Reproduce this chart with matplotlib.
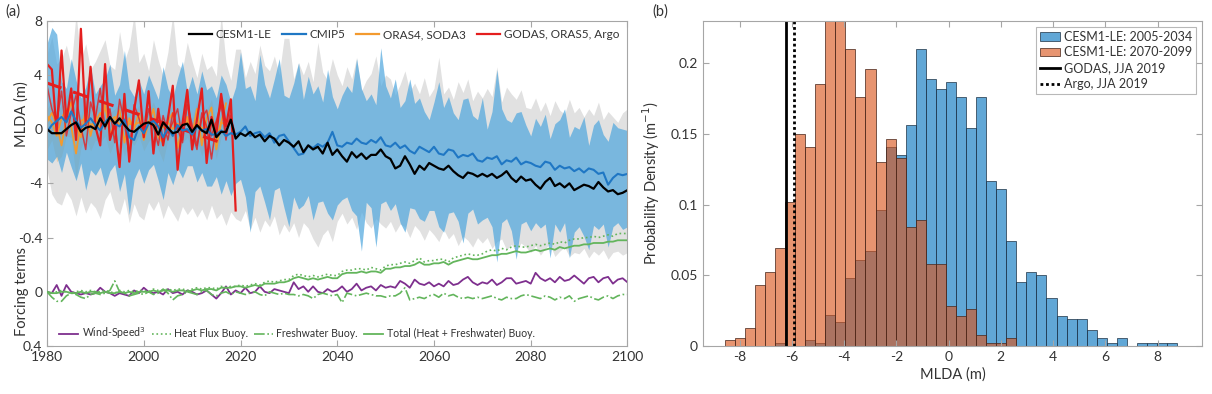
import numpy as np
import matplotlib.pyplot as plt
from matplotlib.lines import Line2D
from matplotlib.patches import Patch

plt.rcParams['font.family'] = ['Lato', 'DejaVu Sans']
plt.rcParams['mathtext.fontset'] = 'dejavusans'

# ---------------- panel (a) data ----------------
years = np.arange(1980, 2101)

cesm_mean = [0.0, -0.3, -0.3, -0.3, 0.0, 0.3, 0.5, -0.2, 0.1, 0.2,
             0.0, 0.8, 0.2, 0.9, 0.4, 0.8, 0.3, -0.1, -0.2, 0.1,
             0.4, 0.5, 0.3, -0.4, 0.5, 0.1, -0.3, -0.2, 0.3, 0.4,
             -0.2, 0.3, -0.1, -0.3, 0.7, -0.6, -0.2, -0.2, 0.7, -0.7,
             -0.3, -0.5, -0.2, -0.6, -0.4, -0.9, -0.5, -0.7, -1.2, -0.8,
             -1.0, -1.3, -0.9, -1.7, -1.2, -1.5, -1.3, -1.8, -1.0, -1.9,
             -1.5, -2.0, -2.4, -1.7, -2.1, -1.8, -2.2, -1.9, -1.9, -1.5,
             -2.0, -2.2, -2.9, -2.7, -2.0, -2.6, -3.3, -2.7, -3.0, -2.5,
             -2.7, -2.9, -3.0, -2.7, -3.1, -3.4, -3.6, -3.2, -3.3, -3.5,
             -3.3, -3.5, -3.3, -3.6, -3.4, -3.1, -3.6, -3.9, -3.5, -3.8,
             -3.7, -4.1, -4.4, -3.9, -3.6, -4.2, -4.0, -4.3, -4.0, -4.5,
             -4.3, -4.1, -4.2, -4.4, -3.9, -4.3, -4.6, -4.5, -4.8, -4.7,
             -4.5]
cmip_mean = [-0.2, 0.3, 0.6, 0.9, 0.5, 1.3, 0.6, 0.1, 0.4, 0.8,
             0.3, -0.1, 0.5, 0.9, 0.4, 0.2, 0.7, -0.6, -0.8, 0.2,
             -0.3, 0.4, 0.6, 0.2, -0.6, 0.1, -0.5, 0.3, -0.1, 0.0,
             -0.4, 0.2, -0.1, 0.0, -0.4, -0.4, -0.1, -0.5, -0.3, -0.4,
             -0.2, 0.2, -0.5, -0.3, -0.2, -0.6, -0.3, -1.0, -0.5, -0.4,
             -0.9, -1.4, -1.9, -1.8, -1.2, -1.4, -1.1, -1.3, -1.0, -0.2,
             -1.2, -1.3, -1.0, -1.1, -0.7, -1.0, -1.1, -0.8, -1.0, -0.6,
             -1.2, -1.3, -1.0, -1.4, -1.2, -1.6, -1.8, -1.3, -1.5, -1.7,
             -1.3, -1.8, -1.9, -1.5, -1.6, -2.1, -1.9, -2.0, -1.8, -2.3,
             -2.4, -2.1, -2.2, -2.0, -2.6, -2.3, -2.4, -2.1, -2.6, -2.4,
             -2.5, -2.7, -2.8, -2.4, -2.5, -3.0, -2.7, -2.9, -2.8, -3.1,
             -2.9, -3.2, -2.9, -3.0, -3.3, -3.2, -4.1, -3.6, -3.3, -3.4,
             -3.3]
cesm_hi = [5.5, 6.8, 4.8, 5.2, 6.2, 4.6, 8.5, 5.1, 6.3, 4.4,
           5.0, 5.8, 6.6, 4.7, 4.4, 7.2, 5.0, 6.1, 8.5, 4.9,
           5.6, 4.3, 6.6, 5.1, 3.9, 5.7, 8.5, 4.8, 4.4, 6.4,
           5.0, 3.8, 5.6, 4.4, 4.7, 3.9, 8.5, 4.9, 3.6, 5.9,
           5.9, 3.8, 5.0, 4.1, 6.2, 4.7, 4.3, 5.4, 4.0, 6.7,
           6.7, 3.7, 4.9, 4.0, 5.0, 3.5, 6.4, 4.2, 3.6, 5.2,
           4.0, 3.2, 4.6, 3.7, 5.3, 2.8, 3.6, 4.1, 5.4, 3.2,
           4.0, 3.7, 2.5, 3.3, 4.3, 2.8, 3.4, 2.6, 3.8, 2.4,
           3.0, 5.3, 2.6, 3.1, 2.2, 3.5, 2.7, 3.7, 2.1, 2.8,
           2.3, 3.0, 2.4, 4.6, 2.0, 3.1, 2.6, 2.2, 2.9, 1.6,
           1.5, 2.3, 1.3, 2.0, 1.0, 2.1, 1.4, 1.1, 2.2, 1.2,
           1.6, 0.9, 1.5, 1.0, 2.0, 0.7, 1.3, 0.9, 0.5, 1.2,
           1.5]
cesm_lo = [-3.0, -4.8, -5.4, -5.6, -4.6, -5.2, -6.4, -5.0, -6.2, -5.4,
           -5.8, -6.6, -5.2, -4.6, -5.9, -6.3, -5.1, -6.9, -5.5, -6.4,
           -6.7, -5.4, -6.0, -5.3, -6.6, -5.6, -6.2, -6.8, -5.7, -6.3,
           -5.8, -6.5, -5.9, -6.7, -5.6, -6.6, -6.2, -7.1, -6.1, -6.6,
           -6.8, -6.0, -7.4, -6.5, -7.6, -6.7, -7.2, -6.4, -7.8, -7.0,
           -7.6, -6.9, -8.0, -6.9, -7.3, -8.1, -8.7, -7.8, -7.4, -8.3,
           -6.8, -6.2, -7.0, -6.5, -7.4, -6.1, -6.9, -7.3, -6.6, -7.0,
           -7.3, -6.8, -7.6, -7.0, -7.2, -8.0, -7.1, -7.5, -8.2, -7.4,
           -7.8, -8.3, -7.4, -8.1, -7.7, -8.6, -7.9, -8.2, -8.7, -8.0,
           -8.4, -8.0, -8.8, -8.3, -8.1, -8.9, -8.5, -9.0, -8.4, -8.7,
           -9.1, -8.6, -9.3, -8.8, -8.5, -9.4, -9.0, -8.7, -9.4, -9.1,
           -9.2, -8.8, -9.5, -9.0, -9.3, -8.9, -9.6, -9.1, -9.0, -9.3,
           -9.1]
cmip_hi = [6.3, 7.5, 7.0, 3.5, 3.0, 5.2, 3.6, 2.3, 3.1, 4.6,
           2.6, 3.2, 3.7, 4.8, 2.5, 3.3, 5.8, 3.0, 2.4, 3.6,
           2.6, 4.0, 3.1, 2.2, 4.6, 3.0, 2.3, 3.8, 5.0, 2.7,
           3.9, 2.6, 4.3, 2.9, 3.2, 2.3, 4.0, 3.3, 2.0, 3.1,
           5.7, 3.0, 3.2, 2.1, 5.5, 3.3, 2.3, 3.7, 5.2, 2.5,
           2.3, 3.4, 4.9, 2.2, 3.9, 2.6, 3.2, 2.0, 4.4, 2.4,
           1.5, 2.5, 3.2, 2.7, 5.2, 3.0, 2.1, 2.6, 1.8, 6.0,
           3.2, 2.3, 3.7, 1.6, 2.1, 3.7, 1.9, 2.3, 1.3, 0.7,
           2.0, 3.5, 1.6, 2.4, 1.2, 0.7, 2.2, 2.3, 1.0, 0.7,
           2.3, 0.0, 1.3, 4.4, 1.5, 0.7, 0.5, 1.2, 1.3, 0.3,
           -0.5, 0.8, 0.2, 1.1, -0.7, 0.4, 0.7, 1.5, -0.6, 0.2,
           0.0, 0.9, -1.2, 0.3, 0.7, -0.4, -0.9, 0.5, 0.1, 0.0,
           -0.1]
cmip_lo = [-2.2, -2.5, -2.0, -3.2, -1.7, -2.8, -3.8, -2.5, -4.5, -3.0,
           -3.4, -2.8, -4.2, -3.1, -2.6, -4.6, -3.3, -6.3, -3.7, -2.9,
           -4.0, -3.0, -2.6, -3.8, -5.2, -3.2, -4.1, -2.9, -3.6, -2.7,
           -2.7, -3.9, -3.2, -4.2, -4.2, -3.5, -4.8, -3.8, -4.9, -4.0,
           -3.7, -5.0, -7.6, -4.6, -4.2, -5.4, -6.7, -4.5, -4.3, -5.8,
           -7.2, -5.0, -5.9, -5.6, -4.9, -6.7, -5.4, -5.3, -6.2, -6.7,
           -5.6, -5.2, -5.0, -6.0, -6.4, -9.0, -5.4, -5.8, -8.7, -5.5,
           -5.3, -6.0, -5.5, -6.9, -7.6, -5.8, -5.9, -6.6, -6.8, -6.0,
           -6.0, -7.2, -7.6, -6.2, -6.1, -6.8, -8.4, -6.2, -5.9, -7.0,
           -6.7, -6.5, -7.2, -9.8, -6.9, -6.6, -7.5, -9.6, -7.0, -6.8,
           -7.5, -6.9, -7.3, -7.0, -9.5, -7.0, -7.6, -6.9, -9.5, -7.6,
           -7.2, -7.9, -8.9, -7.1, -7.4, -7.0, -8.7, -7.2, -6.9, -7.4,
           -7.2]

# reanalyses / observations
obs_years = np.arange(1980, 2020)
oras4 = [1.0, 0.5, -0.5, 0.8, 1.5, 0.2, -1.8, 0.6, 0.8, 0.3,
         0.5, 1.2, 0.4, 0.6, 0.9, 0.3, 0.7, 0.4, 0.3, 0.5,
         0.2, 0.6, 0.4, 0.3, 0.1, 0.5, 0.0, 0.4, 0.2, 0.6,
         -0.2, 0.4, 0.1, -0.3, 0.6, -0.8, 0.5, 0.3]
soda3 = [0.5, 1.2, 0.3, -1.2, 0.8, 2.0, 0.2, -0.6, 1.5, -0.5,
         1.0, 0.0, 1.8, -0.5, 0.6, 1.4, -1.0, 0.8, 0.0, 1.2,
         -0.8, 0.4, 1.5, -0.6, -1.0, 0.6, 1.2, -1.4, 0.3, 0.9,
         -0.5, 1.5, -1.2, 0.8, 1.6, -1.5, 0.5, 1.9]
orange_hi = [1.5, 2.0, 1.2, 1.8, 2.5, 2.8, 1.6, 1.0, 2.2, 1.4,
             1.8, 1.6, 2.4, 1.2, 1.5, 2.0, 1.2, 1.6, 1.1, 1.8,
             1.0, 1.4, 2.0, 1.0, 0.8, 1.2, 1.8, 0.6, 1.1, 1.5,
             0.8, 2.0, 0.5, 1.4, 2.2, 0.4, 1.2, 2.4]
orange_lo = [-1.5, -0.8, -2.4, -2.0, -0.5, -0.6, -3.6, -1.4, -0.6, -1.6,
             -0.8, -1.0, -0.5, -1.8, -0.9, -0.8, -2.0, -0.8, -1.2, -0.5,
             -1.6, -0.9, -0.6, -1.5, -2.4, -0.7, -0.6, -2.2, -1.0, -0.6,
             -1.5, -0.8, -2.0, -0.6, -0.4, -2.2, -0.6, -0.3]
godas = [4.8, 4.4, -0.3, 5.8, 0.6, 3.0, -0.8, 7.4, 0.3, 4.6,
         0.2, -1.2, 4.8, -0.8, 0.4, -2.8, 2.6, -2.4, 1.4, 3.6,
         -0.6, 2.8, -1.8, 1.5, -1.2, 0.8, 3.2, -3.0, 0.4, 2.9,
         -1.5, 0.7, 3.0, -2.5, 0.9, -0.4, 2.6, 0.2, 2.2, -6.0]
oras5 = [3.2, 1.5, 0.5, 2.8, -0.5, 1.2, 2.5, 0.2, -1.5, 2.0,
         0.8, 3.0, 0.0, 1.5, -1.0, 2.2, 0.5, -2.0, 1.8, 0.8,
         -0.5, 1.5, 0.2, -1.2, 1.0, -0.3, 0.5, 1.5, -0.8, 2.4,
         -0.2, -1.5, 1.2, 0.2, -2.2, 0.4, 1.8, -0.8, 1.5]
argo_years = np.arange(2004, 2020)
argo = [0.5, -0.8, 1.2, 0.0, -1.0, 1.8, 0.3, -1.2, 0.8, 1.4,
        -0.5, 0.6, 2.0, -0.3, 1.0, -0.6]
trend_years = [1980, 2016]
trend_vals = [3.4, -1.0]

# forcing terms
wind = [0.00, 0.01, -0.05, 0.03, -0.05, 0.00, 0.01, 0.02, 0.01, 0.02,
        0.01, -0.03, 0.00, 0.01, 0.03, 0.01, 0.02, 0.03, -0.01, 0.01,
        -0.03, 0.00, 0.01, 0.00, 0.02, -0.02, 0.01, 0.00, 0.02, -0.01,
        0.00, 0.02, 0.01, -0.01, 0.02, 0.05, 0.01, -0.04, 0.02, -0.01,
        0.01, -0.03, 0.01, 0.00, -0.04, 0.00, 0.01, -0.02, -0.01, 0.00,
        0.01, -0.07, -0.02, -0.04, 0.00, -0.04, 0.00, 0.01, -0.02, 0.00,
        -0.01, -0.04, 0.00, -0.02, -0.06, -0.01, -0.03, -0.04, -0.01, -0.05,
        -0.03, -0.04, -0.03, -0.08, -0.06, -0.03, -0.09, -0.06, -0.05, -0.07,
        -0.04, -0.06, -0.04, -0.08, -0.05, -0.06, -0.09, -0.11, -0.07, -0.05,
        -0.07, -0.06, -0.09, -0.05, -0.07, -0.10, -0.10, -0.06, -0.07, -0.08,
        -0.06, -0.14, -0.10, -0.08, -0.10, -0.07, -0.11, -0.08, -0.09, -0.12,
        -0.09, -0.06, -0.10, -0.11, -0.07, -0.10, -0.11, -0.06, -0.09, -0.10,
        -0.07]
heat = [0.00, 0.01, 0.00, -0.01, 0.00, 0.01, 0.00, -0.01, 0.00, -0.01,
        0.00, 0.00, -0.01, 0.00, 0.01, -0.01, 0.00, -0.01, 0.00, -0.01,
        -0.01, 0.00, -0.02, -0.01, -0.01, -0.02, -0.01, -0.02, -0.02, -0.01,
        -0.02, -0.03, -0.02, -0.03, -0.03, -0.02, -0.04, -0.03, -0.04, -0.04,
        -0.05, -0.04, -0.05, -0.06, -0.05, -0.07, -0.08, -0.07, -0.08, -0.09,
        -0.09, -0.12, -0.13, -0.12, -0.11, -0.12, -0.11, -0.12, -0.13, -0.12,
        -0.12, -0.15, -0.16, -0.16, -0.17, -0.17, -0.16, -0.18, -0.17, -0.16,
        -0.19, -0.20, -0.20, -0.21, -0.22, -0.21, -0.23, -0.25, -0.22, -0.23,
        -0.23, -0.24, -0.24, -0.22, -0.25, -0.26, -0.27, -0.28, -0.27, -0.27,
        -0.28, -0.30, -0.31, -0.30, -0.32, -0.31, -0.33, -0.34, -0.33, -0.33,
        -0.34, -0.35, -0.34, -0.35, -0.36, -0.35, -0.37, -0.36, -0.38, -0.39,
        -0.39, -0.40, -0.40, -0.41, -0.40, -0.41, -0.42, -0.41, -0.43, -0.43,
        -0.43]
fresh = [0.00, 0.04, 0.07, 0.07, 0.03, 0.01, 0.02, 0.04, 0.05, 0.02,
         0.01, 0.02, 0.01, -0.01, -0.08, 0.00, 0.01, 0.03, 0.02, 0.01,
         0.02, 0.00, 0.02, 0.01, -0.02, 0.01, 0.06, 0.03, 0.02, 0.00,
         0.01, 0.02, 0.00, -0.01, 0.02, 0.03, 0.01, 0.00, 0.02, 0.00,
         0.01, 0.02, 0.01, 0.00, 0.02, 0.03, 0.00, 0.01, 0.02, 0.01,
         0.02, 0.02, 0.03, 0.02, 0.03, 0.05, 0.02, 0.01, 0.02, 0.03,
         0.02, 0.08, 0.01, 0.02, 0.03, 0.02, 0.01, 0.02, 0.03, 0.03,
         0.04, 0.03, 0.03, 0.01, -0.03, 0.06, 0.05, 0.04, 0.05, 0.03,
         0.02, 0.04, 0.01, 0.03, 0.02, 0.04, 0.05, 0.04, 0.05, 0.04,
         0.05, 0.04, 0.03, 0.05, 0.06, 0.04, 0.05, 0.05, 0.03, 0.02,
         0.03, 0.04, 0.05, 0.03, 0.04, 0.06, 0.04, 0.05, 0.03, 0.07,
         0.05, 0.04, 0.03, 0.05, 0.06, 0.04, 0.03, 0.05, 0.03, 0.02,
         0.02]
total = [0.00, 0.01, 0.01, 0.00, 0.00, 0.01, 0.01, 0.00, 0.01, 0.00,
         0.00, 0.01, 0.00, 0.01, 0.01, 0.00, 0.01, 0.00, 0.01, 0.00,
         0.00, 0.00, -0.01, 0.00, -0.01, -0.01, 0.00, -0.01, -0.01, 0.00,
         -0.01, -0.02, -0.01, -0.02, -0.02, -0.01, -0.03, -0.03, -0.03, -0.04,
         -0.04, -0.03, -0.04, -0.05, -0.04, -0.06, -0.06, -0.06, -0.07, -0.07,
         -0.08, -0.10, -0.11, -0.10, -0.09, -0.10, -0.09, -0.10, -0.11, -0.10,
         -0.10, -0.13, -0.14, -0.14, -0.14, -0.15, -0.14, -0.15, -0.15, -0.14,
         -0.17, -0.17, -0.18, -0.18, -0.19, -0.19, -0.20, -0.22, -0.20, -0.20,
         -0.21, -0.21, -0.22, -0.20, -0.22, -0.23, -0.24, -0.25, -0.24, -0.24,
         -0.25, -0.26, -0.27, -0.27, -0.28, -0.28, -0.29, -0.30, -0.29, -0.29,
         -0.30, -0.31, -0.30, -0.31, -0.32, -0.31, -0.33, -0.32, -0.33, -0.34,
         -0.34, -0.35, -0.35, -0.36, -0.36, -0.36, -0.37, -0.37, -0.38, -0.38,
         -0.38]

# ---------------- panel (b) data ----------------
bin_start = -8.57
bin_width = 0.385
dens_early = [0, 0, 0, 0, 0, 0.002, 0, 0, 0.004, 0.002,
              0.022, 0.017, 0.048, 0.061, 0.067, 0.096, 0.141, 0.135, 0.156, 0.210,
              0.189, 0.182, 0.187, 0.176, 0.154, 0.176, 0.117, 0.111, 0.074, 0.045,
              0.052, 0.050, 0.034, 0.021, 0.019, 0.019, 0.011, 0.006, 0.002, 0.006,
              0, 0.002, 0.002, 0.002, 0.002]
dens_late = [0.004, 0.006, 0.013, 0.043, 0.052, 0.069, 0.102, 0.150, 0.141, 0.185,
             0.245, 0.238, 0.210, 0.176, 0.196, 0.130, 0.146, 0.133, 0.084, 0.089,
             0.058, 0.058, 0.028, 0.021, 0.026, 0.008, 0.002, 0.002, 0.006, 0,
             0, 0, 0, 0, 0, 0, 0, 0, 0, 0,
             0, 0, 0, 0, 0]
godas_2019 = -6.21
argo_2019 = -5.92

# ---------------- styling ----------------
spine_c = '#a6a6a6'
text_c = '#333333'
c_blue = '#1f77c4'
c_orange = '#f39a2e'
c_red = '#e41e1e'
c_purple = '#7e2f8e'
c_green = '#63b55c'
tick_fs = 10


def style_axes(a):
    for s in a.spines.values():
        s.set_color(spine_c)
        s.set_linewidth(0.8)
    a.tick_params(direction='in', length=4, width=0.8, color=spine_c,
                  labelcolor=text_c, labelsize=tick_fs, top=True, right=True)


fig = plt.figure(figsize=(12.12, 3.94), dpi=100)

# ---- panel (a)
ax = fig.add_axes([0.0388, 0.1218, 0.4789, 0.8257])
ax.fill_between(years, cesm_lo, cesm_hi, color='#e1e1e1', lw=0)
n_or = len(orange_lo)
ax.fill_between(obs_years[:n_or], orange_lo, orange_hi, color='#f5a54a', alpha=0.35, lw=0)
ax.fill_between(years, cmip_lo, cmip_hi, color='#4da6dd', alpha=0.7, lw=0)
ax.plot(obs_years[:len(oras4)], oras4, color=c_orange, lw=1.3)
ax.plot(obs_years[:len(soda3)], soda3, color=c_orange, lw=1.3)
ax.plot(obs_years[:len(oras5)], oras5, color=c_red, lw=1.1, alpha=0.8)
ax.plot(argo_years, argo, color=c_red, lw=1.1, alpha=0.8)
ax.plot(obs_years, godas, color=c_red, lw=1.6)
ax.plot(trend_years, trend_vals, color=c_red, lw=2.2, dashes=(5, 4))
ax.plot(years, cmip_mean, color=c_blue, lw=1.5)
ax.plot(years, cesm_mean, color='black', lw=1.6)
ax.set_xlim(1980, 2100)
ax.set_ylim(-16, 8)
ax.set_xticks([1980, 2000, 2020, 2040, 2060, 2080, 2100])
ax.set_yticks([-4, 0, 4, 8])
ax.set_yticklabels(['-4', '0', '4', '8'])
style_axes(ax)

top_handles = [Line2D([], [], color='black', lw=1.6),
               Line2D([], [], color=c_blue, lw=1.6),
               Line2D([], [], color=c_orange, lw=1.6),
               Line2D([], [], color=c_red, lw=1.6)]
ax.legend(top_handles, ['CESM1-LE', 'CMIP5', 'ORAS4, SODA3', 'GODAS, ORAS5, Argo'],
          loc='upper right', ncol=4, frameon=False, fontsize=8.5,
          handlelength=2.0, handletextpad=0.3, columnspacing=0.9,
          borderaxespad=0.3, labelcolor=text_c)

ax2 = ax.twinx()
ax2.plot(years, wind, color=c_purple, lw=1.3)
ax2.plot(years, heat, color=c_green, lw=1.2, ls=':')
ax2.plot(years, fresh, color=c_green, lw=1.2, ls='-.')
ax2.plot(years, total, color=c_green, lw=1.3)
ax2.set_ylim(0.4, -2.0)
ax2.yaxis.tick_left()
ax2.set_yticks([-0.4, 0, 0.4])
ax2.set_yticklabels(['-0.4', '0', '0.4'])
for s in ax2.spines.values():
    s.set_visible(False)
ax2.tick_params(direction='in', length=4, width=0.8, color=spine_c,
                labelcolor=text_c, labelsize=tick_fs, right=False)

bot_handles = [Line2D([], [], color=c_purple, lw=1.3),
               Line2D([], [], color=c_green, lw=1.2, ls=':'),
               Line2D([], [], color=c_green, lw=1.2, ls='-.'),
               Line2D([], [], color=c_green, lw=1.3)]
ax2.legend(bot_handles, ['Wind-Speed$^3$', 'Heat Flux Buoy.', 'Freshwater Buoy.',
                         'Total (Heat + Freshwater) Buoy.'],
           loc='lower left', bbox_to_anchor=(0.005, -0.015), ncol=4, frameon=False,
           fontsize=7.6, handlelength=1.8, handletextpad=0.3, columnspacing=0.6,
           labelcolor=text_c)

fig.text(22 / 1212, 1 - 114 / 394, 'MLDA (m)', rotation=90, ha='center', va='center',
         fontsize=10.5, color=text_c)
fig.text(22 / 1212, 1 - 292 / 394, 'Forcing terms', rotation=90, ha='center', va='center',
         fontsize=10.5, color=text_c)
fig.text(5 / 1212, 1 - 12 / 394, '(a)', ha='left', va='center', fontsize=10.5, color=text_c)

# ---- panel (b)
bx = fig.add_axes([0.58, 0.1218, 0.4117, 0.8257])
edges = bin_start + bin_width * np.arange(len(dens_early) + 1)
bx.bar(edges[:-1], dens_early, width=bin_width, align='edge',
       facecolor=(0.0, 0.447, 0.741, 0.62), edgecolor=(0.12, 0.2, 0.28, 0.85), lw=0.6)
bx.bar(edges[:-1], dens_late, width=bin_width, align='edge',
       facecolor=(0.85, 0.325, 0.098, 0.62), edgecolor=(0.28, 0.15, 0.1, 0.85), lw=0.6)
bx.axvline(godas_2019, color='black', lw=2.0)
bx.axvline(argo_2019, color='black', lw=2.0, ls=(0, (1, 1)))
bx.set_xlim(-9.4, 9.7)
bx.set_ylim(0, 0.23)
bx.set_xticks([-8, -6, -4, -2, 0, 2, 4, 6, 8])
bx.set_xticklabels(['-8', '-6', '-4', '-2', '0', '2', '4', '6', '8'])
bx.set_yticks([0, 0.05, 0.1, 0.15, 0.2])
bx.set_yticklabels(['0', '0.05', '0.1', '0.15', '0.2'])
style_axes(bx)
bx.set_xlabel('MLDA (m)', fontsize=10.5, color=text_c, labelpad=3)
bx.set_ylabel('Probability Density (m$^{-1}$)', fontsize=10.5, color=text_c, labelpad=6)

hist_handles = [Patch(facecolor=(0.0, 0.447, 0.741, 0.62), edgecolor=(0.12, 0.2, 0.28, 0.85), lw=0.6),
                Patch(facecolor=(0.85, 0.325, 0.098, 0.62), edgecolor=(0.28, 0.15, 0.1, 0.85), lw=0.6),
                Line2D([], [], color='black', lw=2.0),
                Line2D([], [], color='black', lw=2.0, ls=(0, (1, 1)))]
leg = bx.legend(hist_handles, ['CESM1-LE: 2005-2034', 'CESM1-LE: 2070-2099',
                               'GODAS, JJA 2019', 'Argo, JJA 2019'],
                loc='upper right', fontsize=9, frameon=True, fancybox=False,
                handlelength=1.6, handletextpad=0.3, borderaxespad=0.5,
                labelspacing=0.3, borderpad=0.3, labelcolor=text_c)
leg.get_frame().set_edgecolor(spine_c)
leg.get_frame().set_linewidth(0.8)
fig.text(652 / 1212, 1 - 12 / 394, '(b)', ha='left', va='center', fontsize=10.5, color=text_c)

fig.savefig('out.png', dpi=100)
